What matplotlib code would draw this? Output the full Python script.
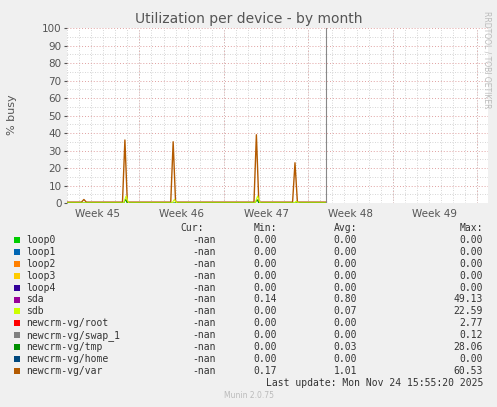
import matplotlib
matplotlib.use("Agg")
import matplotlib.pyplot as plt
from matplotlib.ticker import MultipleLocator

W, H = 497, 407
names = ["loop0","loop1","loop2","loop3","loop4","sda","sdb","newcrm-vg/root",
         "newcrm-vg/swap_1","newcrm-vg/tmp","newcrm-vg/home","newcrm-vg/var"]
colors = ["#00CC00","#0066B3","#FF8000","#FFCC00","#330099","#990099","#CCFF00",
          "#FF0000","#808080","#008F00","#00487D","#B35A00"]
cur = ["-nan"]*12
mins = ["0.00","0.00","0.00","0.00","0.00","0.14","0.00","0.00","0.00","0.00","0.00","0.17"]
avgs = ["0.00","0.00","0.00","0.00","0.00","0.80","0.07","0.00","0.00","0.03","0.00","1.01"]
maxs = ["0.00","0.00","0.00","0.00","0.00","49.13","22.59","2.77","0.12","28.06","0.00","60.53"]
week_labels = ["Week 45","Week 46","Week 47","Week 48","Week 49"]

# time in days from start of week 45
var_t = [1.0, 2.2, 2.4, 2.6, 5.6, 5.8, 6.0, 9.6, 9.8, 10.0, 16.5, 16.7, 16.9, 19.7, 19.9, 20.1, 22.5]
var_v = [0.5, 0.5, 2.0, 0.5, 0.5, 36.0, 0.5, 0.5, 35.0, 0.5, 0.5, 39.0, 0.5, 0.5, 23.0, 0.5, 0.5]
sdb_t = [1.0, 5.7, 5.9, 6.1, 9.7, 9.9, 10.1, 16.6, 16.8, 17.0, 19.8, 20.0, 20.2, 22.5]
sdb_v = [0.0, 0.0, 4.0, 0.0, 0.0, 2.0, 0.0, 0.0, 4.0, 0.0, 0.0, 1.0, 0.0, 0.0]
tmp_t = [1.0, 5.7, 5.85, 6.0, 16.6, 16.75, 16.9, 22.5]
tmp_v = [0.0, 0.0, 2.0, 0.0, 0.0, 2.0, 0.0, 0.0]
now_day = 22.5

fig = plt.figure(figsize=(W/100, H/100), dpi=100, facecolor="#F0F0F0")
ax = fig.add_axes([67/W, 1-203/H, (488-67)/W, (203-28)/H])
ax.set_facecolor("white")
ax.set_xlim(1.0, 35.9)
ax.set_ylim(0, 100)
ax.yaxis.set_major_locator(MultipleLocator(10))
ax.yaxis.set_minor_locator(MultipleLocator(5))
ax.xaxis.set_minor_locator(MultipleLocator(1))
ax.grid(which="minor", color="#C8C8C8", linestyle=(0,(1,2)), linewidth=0.6)
ax.grid(which="major", axis="y", color="#E0A0A0", linestyle=(0,(1,2)), linewidth=0.7)
ax.xaxis.set_major_locator(plt.FixedLocator([3.5+7*i for i in range(5)]))
ax.set_xticklabels(week_labels)
for d in [7,14,21,28,35]:
    ax.axvline(d, color="#E0A0A0", linestyle=(0,(1,2)), linewidth=0.7, zorder=0)
ax.tick_params(axis="x", length=0, labelsize=7.5, colors="#555555", pad=4)
ax.tick_params(axis="y", length=2, labelsize=7.5, colors="#555555", pad=2)
ax.tick_params(which="minor", length=0)
for s in ax.spines.values():
    s.set_visible(False)
ax.axhline(0, color="#000000", linewidth=0.6)
ax.plot(var_t, var_v, color=colors[11], linewidth=1.0)
ax.plot(tmp_t, tmp_v, color=colors[9], linewidth=0.8)
ax.plot(sdb_t, sdb_v, color=colors[6], linewidth=0.8)
ax.axvline(now_day, color="#888888", linewidth=0.8)

fig.text(W/2/W, 1-19/H, "Utilization per device - by month", ha="center", va="center",
         fontsize=10, color="#555555")
fig.text(12/W, 1-115/H, "% busy", rotation=90, ha="center", va="center", fontsize=8, color="#555555")
fig.text(487/W, 1-60/H, "RRDTOOL / TOBI OETIKER", rotation=270, ha="center", va="center",
         fontsize=5.5, color="#BBBBBB")

mono = dict(family="DejaVu Sans Mono", fontsize=7, color="#333333", va="center")
y0 = 228
fig.text(204/W, 1-y0/H, "Cur:", ha="right", **mono)
fig.text(277/W, 1-y0/H, "Min:", ha="right", **mono)
fig.text(357/W, 1-y0/H, "Avg:", ha="right", **mono)
fig.text(483/W, 1-y0/H, "Max:", ha="right", **mono)
for i, n in enumerate(names):
    y = 240 + i*11.9
    fig.patches.append(plt.Rectangle((14/W, 1-(y+3)/H), 6/W, 6/H, transform=fig.transFigure,
                                     facecolor=colors[i], edgecolor="none"))
    fig.text(26/W, 1-y/H, n, ha="left", **mono)
    fig.text(216/W, 1-y/H, cur[i], ha="right", **mono)
    fig.text(277/W, 1-y/H, mins[i], ha="right", **mono)
    fig.text(357/W, 1-y/H, avgs[i], ha="right", **mono)
    fig.text(483/W, 1-y/H, maxs[i], ha="right", **mono)
fig.text(483/W, 1-383/H, "Last update: Mon Nov 24 15:55:20 2025", ha="right", **mono)
fig.text(W/2/W, 1-396/H, "Munin 2.0.75", ha="center", va="center", fontsize=5.5, color="#BBBBBB")
fig.savefig("out.png", dpi=100, facecolor=fig.get_facecolor())
